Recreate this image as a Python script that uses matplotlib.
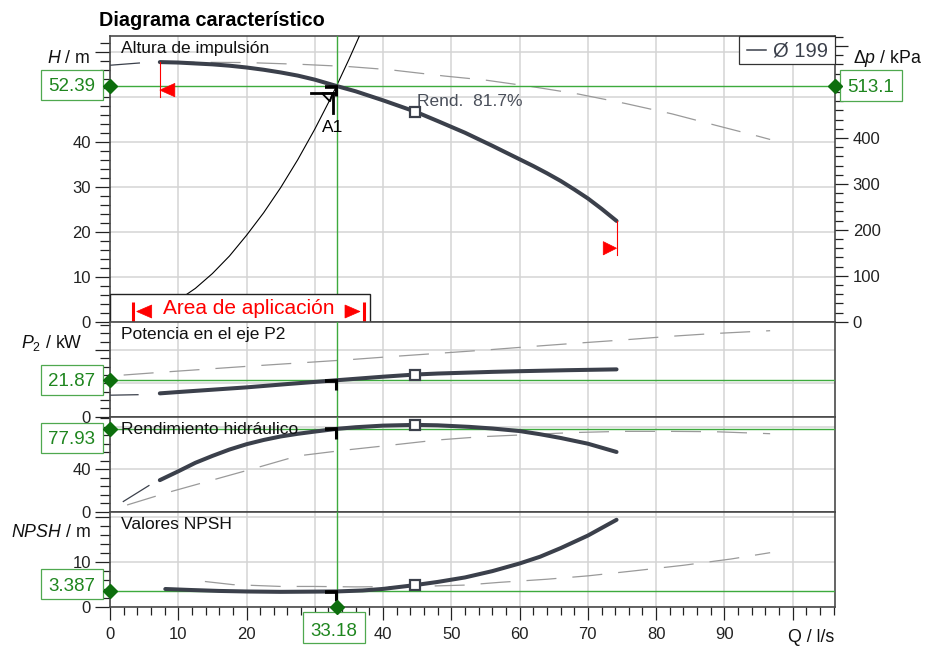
import matplotlib

matplotlib.use("agg")

import matplotlib.pyplot as plt
import matplotlib.transforms as mtransforms
from matplotlib.patches import Rectangle, Polygon
from matplotlib.lines import Line2D
from matplotlib.ticker import MultipleLocator

plt.rcParams["font.family"] = ["Liberation Sans", "DejaVu Sans"]
plt.rcParams["mathtext.fontset"] = "custom"
plt.rcParams["mathtext.rm"] = "Liberation Sans"
plt.rcParams["mathtext.it"] = "Liberation Sans:italic"

# Duty point A1 and best efficiency point
q_duty = 33.18
h_duty, dp_duty, p2_duty, eta_duty, npsh_duty = 52.39, 513.1, 21.87, 77.93, 3.387
q_best = 44.7
h_best, p2_best, eta_best, npsh_best = 46.7, 25.3, 81.7, 4.8
dp_per_m = dp_duty / h_duty

# Head, impeller 199 mm (solid) and max impeller (dashed)
q_h = [7.3, 10, 12.5, 15, 17.5, 20, 22.5, 25, 27.5, 30, 33.18, 36, 40, 44.7,
       48, 52, 56, 60, 62, 64, 66, 68, 70, 72, 74.2]
h_199 = [57.7, 57.6, 57.4, 57.2, 56.9, 56.5, 56.0, 55.4, 54.7, 53.8, 52.39, 51.2,
         49.2, 46.7, 44.6, 42.0, 39.1, 36.1, 34.6, 33.0, 31.3, 29.4, 27.4, 25.1, 22.4]
q_h_low = [0, 4.3]
h_199_low = [57.0, 57.5]
q_h_max = [8, 20, 28, 35, 41, 49, 55, 62, 68.6, 75.5, 82.3, 88.6, 95, 96.7]
h_max = [57.7, 57.6, 57.2, 56.7, 56.0, 54.6, 53.7, 52.2, 50.6, 48.5, 46.2, 43.7, 41.2, 40.5]

# System curve
q_sys = [0, 5, 10, 12.5, 15, 17.5, 20, 22.5, 25, 27.5, 30, 32, 33.18, 35, 36.5, 37.5]
h_sys = [0, 1.2, 4.8, 7.4, 10.7, 14.6, 19.2, 24.2, 29.8, 36.0, 42.8, 48.7, 52.39,
         58.3, 63.4, 67]

# Shaft power P2
q_p = [7.3, 10, 15, 20, 26, 33.18, 40, 44.7, 48, 52, 56, 60, 67, 74.2]
p2_199 = [14.0, 14.8, 16.2, 17.6, 19.6, 21.87, 24.0, 25.3, 25.9, 26.4, 26.9, 27.3,
          27.9, 28.4]
q_p_low = [0, 4.1]
p2_199_low = [12.9, 13.2]
q_p_max = [2, 8, 20, 35, 42, 48, 55, 62, 68, 75, 82, 88, 96.7]
p2_max = [25, 26.8, 30.2, 34.2, 36.3, 38.0, 40.0, 42.2, 44.0, 46.0, 48.2, 49.8, 51.6]

# Hydraulic efficiency
q_e = [7.3, 10, 12.5, 15, 17.5, 20, 22.5, 25, 27.5, 30, 33.18, 36, 40, 44.7, 48,
       52.7, 56, 60, 63, 66, 70, 74.2]
eta_199 = [29.7, 38, 46, 52.5, 58.5, 63.5, 67.5, 70.8, 73.3, 75.4, 77.93, 79.5, 81.0,
           81.7, 81.3, 79.8, 78.3, 75.9, 72.9, 69.4, 64.0, 56.2]
q_e_low = [1.95, 5.7]
eta_199_low = [9.6, 24.6]
q_e_max = [2.5, 6.4, 9.2, 21, 27.5, 34.5, 41, 48, 54.5, 68, 75, 82, 88.5, 95, 96.7]
eta_max = [6.3, 14, 19.4, 40.5, 52.5, 58, 62.5, 67.5, 70.6, 74.5, 75.6, 75.6, 75.3, 73.8, 73.4]

# NPSH required
q_n = [8.1, 12, 16, 20, 25, 30, 33.18, 37, 40, 44.7, 48, 52, 56, 60, 63, 66, 70, 74.2]
npsh_199 = [3.93, 3.7, 3.5, 3.38, 3.3, 3.35, 3.387, 3.6, 3.95, 4.8, 5.5, 6.5, 7.9,
            9.6, 11.1, 13.0, 15.8, 19.3]
q_n_max = [13.9, 18, 25, 30, 36, 45, 52, 57, 64, 70, 77, 84, 91, 96.7]
npsh_max = [5.6, 4.9, 4.5, 4.5, 4.4, 4.5, 4.8, 5.4, 6.1, 6.85, 8.0, 9.2, 10.6, 12.0]

curve_c = "#3b404b"
dash_c = "#9a9a9a"
grid_c = "#d4d4d4"
spine_c = "#4a4a4a"
green_line = "#3daa3d"
green_box = "#4fa84f"
green_txt = "#1f861f"
green_mark = "#0d6e0d"
red = "#ff0000"

W, H = 930, 646
fig = plt.figure(figsize=(W / 100, H / 100), dpi=100)


def panel(top, bottom):
    return fig.add_axes([110 / W, 1 - bottom / H, 725 / W, (bottom - top) / H])


def at(ax, x, y, base=None):
    # pixel offsets (y up) around a point given in data / blended coords
    base = ax.transData if base is None else base
    return mtransforms.Affine2D() + mtransforms.ScaledTranslation(x, y, base)


ax_h = panel(36, 321.7)
ax_p = panel(321.7, 416.7)
ax_e = panel(416.7, 511.7)
ax_n = panel(511.7, 606.7)
axes = [ax_h, ax_p, ax_e, ax_n]

ax_h.set_ylim(0, 63.5)
ax_p.set_ylim(0, 57)
ax_e.set_ylim(0, 89.4)
ax_n.set_ylim(0, 21.1)

# labels that would sit under the value boxes are left blank
ax_h.set_yticks(range(0, 70, 10), ["0", "10", "20", "30", "40", "", ""])
ax_h.yaxis.set_minor_locator(MultipleLocator(2))
ax_p.set_yticks([0, 20, 40], ["0", "", ""])
ax_p.yaxis.set_minor_locator(MultipleLocator(5))
ax_e.set_yticks([0, 40, 80], ["0", "40", ""])
ax_e.yaxis.set_minor_locator(MultipleLocator(8))
ax_n.set_yticks([0, 10, 20], ["0", "10", ""])
ax_n.yaxis.set_minor_locator(MultipleLocator(2))

for ax in axes:
    ax.set_xlim(0, 106.2)
    ax.set_xticks(range(0, 110, 10))
    ax.xaxis.set_minor_locator(MultipleLocator(2))
    ax.grid(True, which="major", color=grid_c, lw=1.1)
    ax.set_axisbelow(True)
    for s in ax.spines.values():
        s.set_color(spine_c)
        s.set_linewidth(1.2)
    ax.tick_params(axis="y", which="major", length=10.8, width=0.9, pad=3,
                   labelsize=12, colors="#222222")
    ax.tick_params(axis="y", which="minor", length=7.2, width=0.9, colors="#222222")
    ax.tick_params(axis="x", which="both", bottom=False, labelbottom=False)

ax_n.set_xticklabels(["0", "10", "20", "", "40", "50", "60", "70", "80", "90", ""])
ax_n.tick_params(axis="x", which="major", bottom=True, labelbottom=True,
                 length=9.6, width=0.9, pad=5, labelsize=12, colors="#222222")
ax_n.tick_params(axis="x", which="minor", bottom=True, length=6, width=0.9,
                 colors="#222222")

# differential pressure scale on the right of the head panel
ax_r = ax_h.twinx()
ax_r.set_ylim(0, 63.5 * dp_per_m)
ax_r.set_yticks(range(0, 700, 100), ["0", "100", "200", "300", "400", "", ""])
ax_r.yaxis.set_minor_locator(MultipleLocator(20))
ax_r.tick_params(axis="y", which="major", length=9.4, width=0.9, pad=3.4,
                 labelsize=12, colors="#222222")
ax_r.tick_params(axis="y", which="minor", length=5.8, width=0.9, colors="#222222")
for s in ax_r.spines.values():
    s.set_visible(False)

dash_kw = dict(color=dash_c, lw=0.9, dashes=(24, 12.8), zorder=2)
solid_kw = dict(color=curve_c, lw=2.9, solid_capstyle="round",
                solid_joinstyle="round", zorder=4)
thin_kw = dict(color=curve_c, lw=0.9, zorder=4)

ax_h.plot(q_h_max, h_max, **dash_kw)
ax_h.plot(q_h_low, h_199_low, **thin_kw)
ax_h.plot(q_h, h_199, **solid_kw)
ax_h.plot(q_sys, h_sys, color="black", lw=0.8, zorder=3)

ax_p.plot(q_p_max, p2_max, **dash_kw)
ax_p.plot(q_p_low, p2_199_low, **thin_kw)
ax_p.plot(q_p, p2_199, **solid_kw)

ax_e.plot(q_e_max, eta_max, **dash_kw)
ax_e.plot(q_e_low, eta_199_low, **thin_kw)
ax_e.plot(q_e, eta_199, **solid_kw)

ax_n.plot(q_n_max, npsh_max, **dash_kw)
ax_n.plot(q_n, npsh_199, **solid_kw)

# best efficiency point squares
for ax, yb in zip(axes, [h_best, p2_best, eta_best, npsh_best]):
    ax.plot(q_best, yb, marker="s", ms=7.5, mfc="white", mec=curve_c, mew=1.6,
            zorder=6)
ax_h.annotate(f"Rend.  {eta_best}%", (q_best, h_best), xytext=(1.2, 4.1),
              textcoords="offset points", va="baseline", fontsize=12.5,
              color="#4a4f5a", zorder=6)

# panel titles
titles = ["Altura de impulsión", "Potencia en el eje P2", "Rendimiento hidráulico",
          "Valores NPSH"]
for ax, t in zip(axes, titles):
    ax.annotate(t, (0, 1), xycoords="axes fraction", xytext=(7.7, -12.3),
                textcoords="offset points", va="baseline", fontsize=12.5,
                color="#111111", zorder=7)

# duty point guide lines, markers and value boxes
duty_vals = [h_duty, p2_duty, eta_duty, npsh_duty]
duty_text = [f"{h_duty}", f"{p2_duty}", f"{eta_duty}", f"{npsh_duty}"]
box_shift = [-14, -14.3, -23.7, -8]
for ax, v, txt, sh in zip(axes, duty_vals, duty_text, box_shift):
    ax.axvline(q_duty, color=green_line, lw=1, zorder=3)
    ax.axhline(v, color=green_line, lw=1, zorder=3)
    tr = at(ax, 0, v, ax.get_yaxis_transform())
    ax.add_patch(Rectangle((-69, sh), 61.7, 30, transform=tr, fc="white",
                           ec=green_box, lw=0.9, clip_on=False, zorder=20))
    ax.text(-38.2, sh + 8.5, txt, transform=tr, ha="center", va="baseline",
            fontsize=13.5, color=green_txt, zorder=21, clip_on=False)
    ax.plot(0, v, marker="D", ms=7, color=green_mark,
            transform=ax.get_yaxis_transform(), clip_on=False, zorder=22)
    # small operating point tick on each curve
    trd = at(ax, q_duty, v)
    ax.add_line(Line2D([-12, 1.5], [-0.6, -0.6], transform=trd, color="black",
                       lw=2.6, zorder=7, solid_capstyle="butt"))
    ax.add_line(Line2D([-0.5, -0.5], [-0.6, -10], transform=trd, color="black",
                       lw=2.2, zorder=7, solid_capstyle="butt"))

tr_r = at(ax_r, 1, dp_duty, ax_r.get_yaxis_transform())
ax_r.add_patch(Rectangle((5, -14.7), 61.7, 30.7, transform=tr_r, fc="white",
                         ec=green_box, lw=0.9, clip_on=False, zorder=20))
ax_r.text(35.9, -6.2, f"{dp_duty}", transform=tr_r, ha="center", va="baseline",
          fontsize=13.5, color=green_txt, zorder=21, clip_on=False)
ax_r.plot(1, dp_duty, marker="D", ms=7, color=green_mark,
          transform=ax_r.get_yaxis_transform(), clip_on=False, zorder=22)

tr_q = at(ax_n, q_duty, 0, ax_n.get_xaxis_transform())
ax_n.add_patch(Rectangle((-33.5, -36.6), 62, 31.6, transform=tr_q, fc="white",
                         ec=green_box, lw=0.9, clip_on=False, zorder=20))
ax_n.text(-2.5, -29, f"{q_duty}", transform=tr_q, ha="center", va="baseline",
          fontsize=13.5, color=green_txt, zorder=21, clip_on=False)
ax_n.plot(q_duty, 0, marker="D", ms=7, color=green_mark,
          transform=ax_n.get_xaxis_transform(), clip_on=False, zorder=22)

# A1 symbol
tra = at(ax_h, q_duty, h_duty)
ax_h.add_line(Line2D([-26, -3.2], [-7.3, -7.3], transform=tra, color="black",
                     lw=2, zorder=7))
ax_h.add_line(Line2D([-3.2, -3.2], [-7.3, -27.3], transform=tra, color="black",
                     lw=2, zorder=7))
ax_h.add_patch(Polygon([(-14.5, -7.3), (-4, -7.3), (-6.5, -15.5)], closed=True,
                       transform=tra, fc="none", ec="black", lw=1.3, zorder=7))
ax_h.text(-4, -45.7, "A1", transform=tra, ha="center", va="baseline",
          fontsize=12.5, color="black", zorder=7)

# operating range limits
trl = at(ax_h, q_h[0], h_199[0])
ax_h.add_line(Line2D([0, 0], [0, -34.7], transform=trl, color=red, lw=0.8, zorder=5))
ax_h.add_patch(Polygon([(0, -28), (15, -21.3), (15, -34.7)], closed=True,
                       transform=trl, fc=red, ec=red, lw=0.5, zorder=5))
trh = at(ax_h, q_h[-1], h_199[-1])
ax_h.add_line(Line2D([0, 0], [0, -34], transform=trh, color=red, lw=0.8, zorder=5))
ax_h.add_patch(Polygon([(0, -27.3), (-13.3, -20.7), (-13.3, -34)], closed=True,
                       transform=trh, fc=red, ec=red, lw=0.5, zorder=5))

# application range box
tro = at(ax_h, 0, 0, ax_h.transAxes)
ax_h.add_patch(Rectangle((0, 0), 260, 27.4, transform=tro, fc="white", ec="#222222",
                         lw=1, zorder=8))
for xb in (23.3, 254):
    ax_h.add_line(Line2D([xb, xb], [0, 20], transform=tro, color=red, lw=2.2,
                         zorder=9, solid_capstyle="butt"))
ax_h.add_patch(Polygon([(26.7, 10.2), (41.7, 16.7), (41.7, 3.7)], closed=True,
                       transform=tro, fc=red, ec=red, lw=0.5, zorder=9))
ax_h.add_patch(Polygon([(250, 10.2), (235, 16.7), (235, 3.7)], closed=True,
                       transform=tro, fc=red, ec=red, lw=0.5, zorder=9))
ax_h.text(138.3, 8.2, "Area de aplicación", transform=tro, ha="center",
          va="baseline", fontsize=15, color=red, zorder=9)

# impeller legend
trg = at(ax_h, 1, 1, ax_h.transAxes)
ax_h.add_patch(Rectangle((-95.7, -28), 95.7, 28, transform=trg, fc="white",
                         ec="#333333", lw=0.9, zorder=8, clip_on=False))
ax_h.add_line(Line2D([-88.3, -69], [-14, -14], transform=trg, color=curve_c,
                     lw=1.1, zorder=9))
ax_h.text(-61.7, -20, "Ø 199", transform=trg, ha="left", va="baseline",
          fontsize=14.5, color=curve_c, zorder=9)


# axis labels and title
def fig_text(x, y, s, **kw):
    fig.text(x / W, 1 - y / H, s, va="baseline", fontsize=12.8, color="#111111", **kw)


fig_text(90.7, 63, "$H$ / m", ha="right")
fig_text(853.3, 63, "Δ$p$ / kPa", ha="left")
fig_text(82.7, 348.3, "$P_{2}$ / kW", ha="right")
fig_text(90.7, 536.7, "$NPSH$ / m", ha="right")
fig_text(834, 641.7, "Q / l/s", ha="right")
fig.text(99 / W, 1 - 26.5 / H, "Diagrama característico", fontsize=14.3,
         fontweight="bold", va="baseline", color="black")

fig.savefig("out.png", dpi=100, facecolor="white")
